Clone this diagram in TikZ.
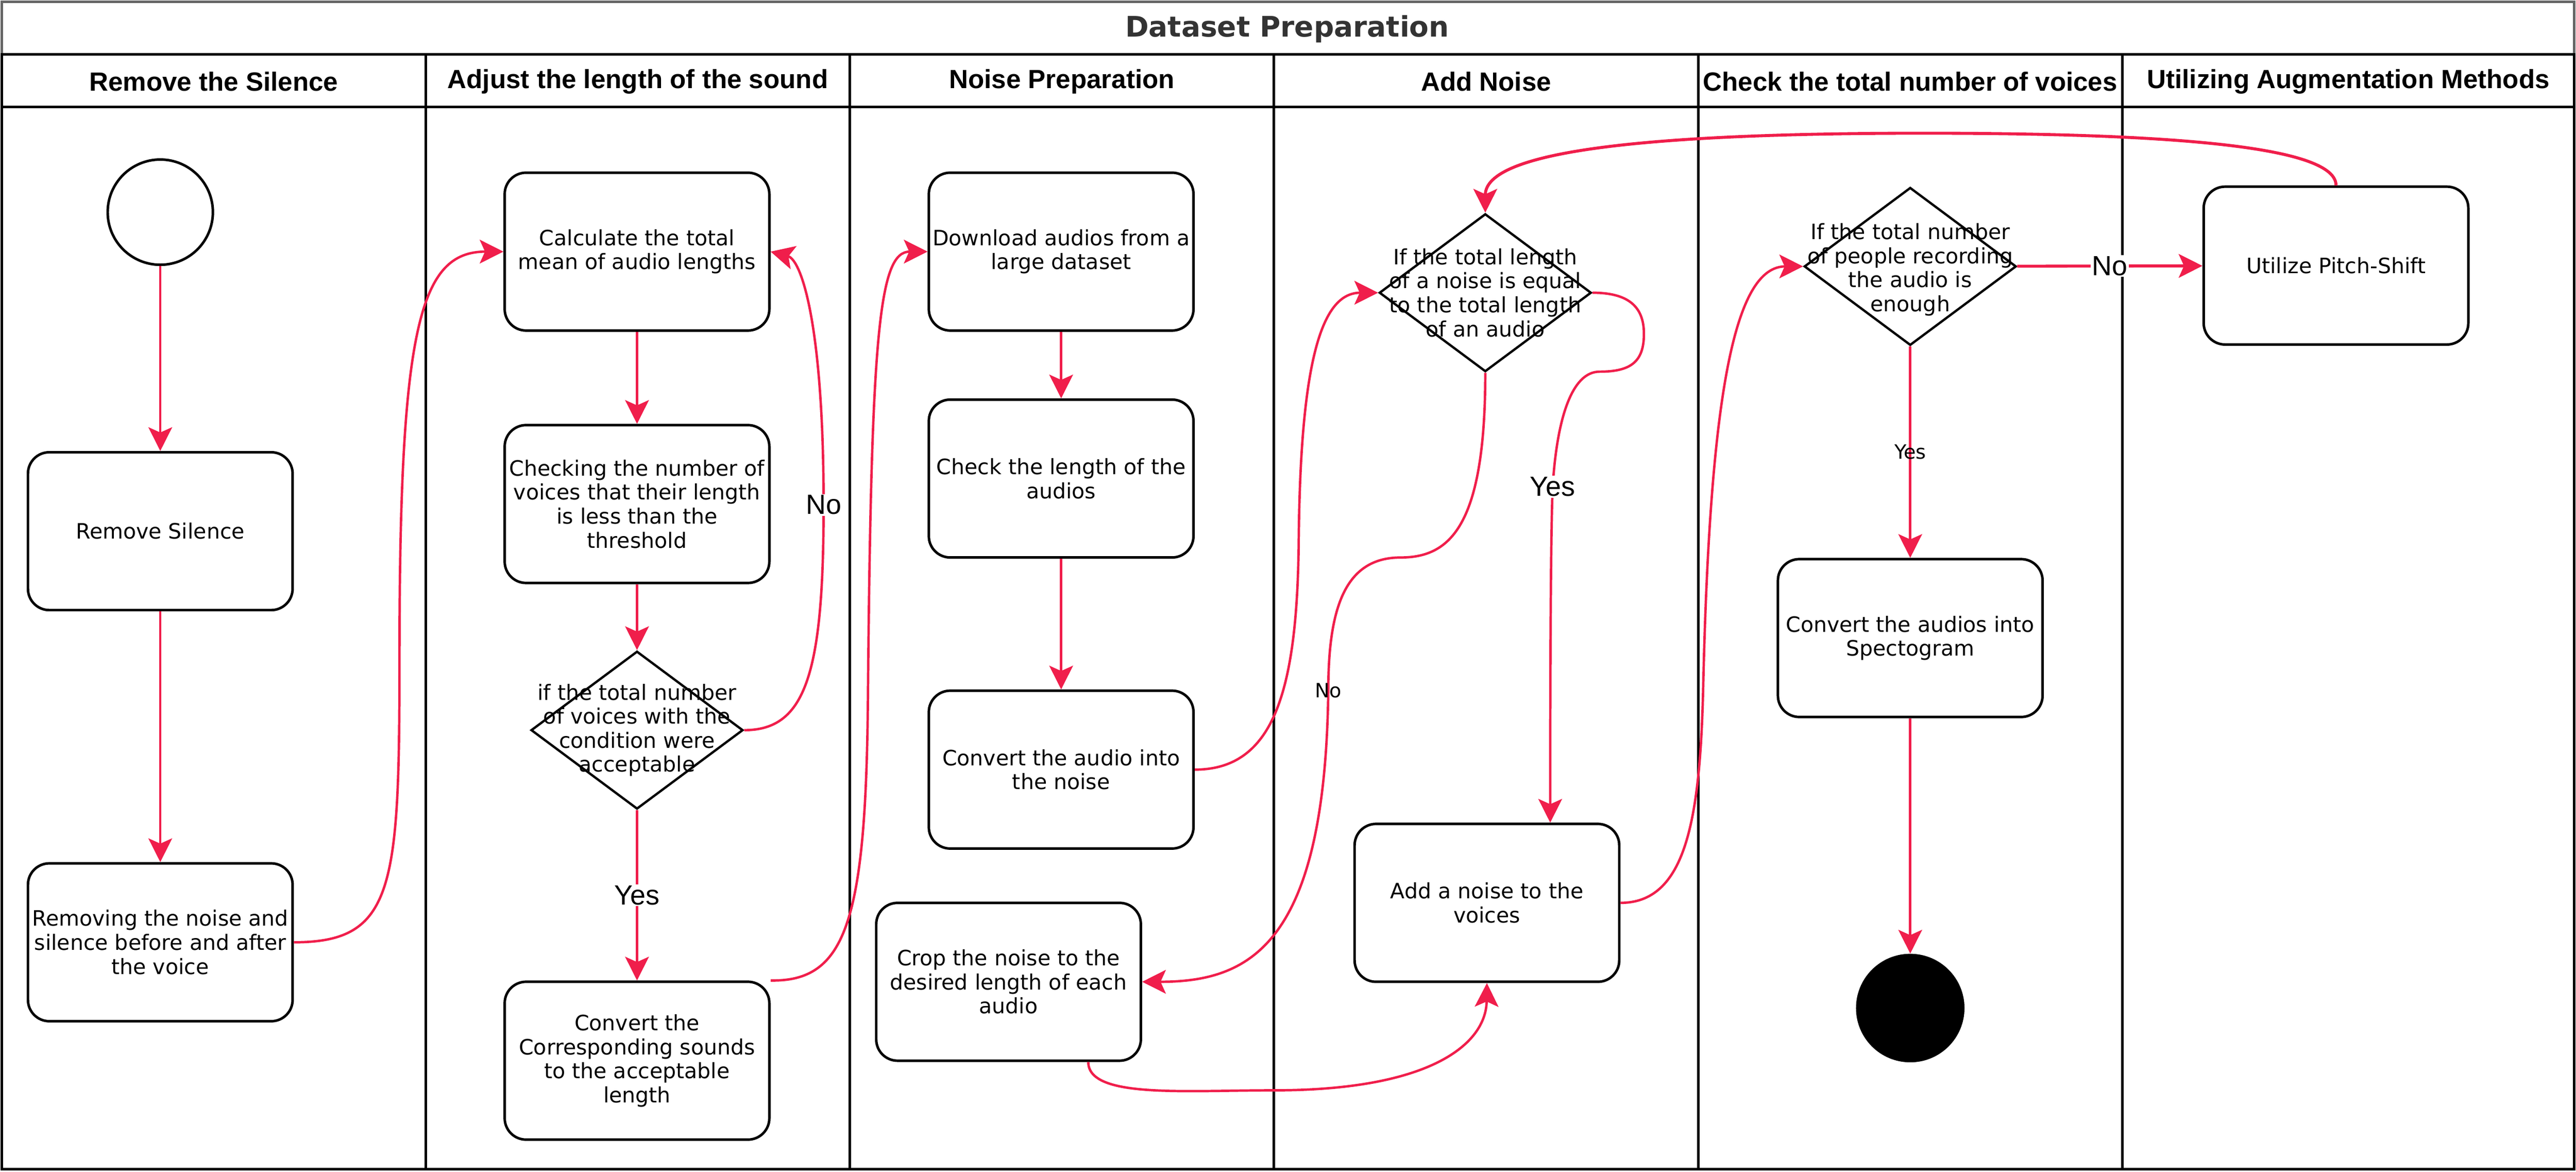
\documentclass[tikz,border=0pt]{standalone}
\usepackage{fontspec}
\setmainfont{DejaVu Sans}
\newfontfamily\arialfont{Liberation Sans}
\usetikzlibrary{arrows.meta,positioning,shapes.geometric,calc}

\definecolor{flowred}{RGB}{240,30,75}
\definecolor{poolgray}{HTML}{666666}
\definecolor{titlegray}{HTML}{333333}

\tikzset{
  flowtip/.tip={Stealth[length=0.72cm,width=0.72cm,inset=0.16cm]},
  activity/.style={draw, rounded corners=0.65cm, line width=2.2pt, minimum width=8.05cm,
    minimum height=4.8cm, inner sep=0pt, align=center, font={\fontsize{18.3pt}{20.8pt}\selectfont}},
  decision/.style={draw, diamond, line width=2pt, minimum width=6.45cm, minimum height=4.8cm, inner sep=0pt},
  dtext/.style={align=center, font={\fontsize{18.3pt}{20.8pt}\selectfont}},
  startnode/.style={draw, circle, line width=2.2pt, minimum size=3.2cm, inner sep=0pt},
  endnode/.style={circle, fill=black, minimum size=3.3cm, inner sep=0pt},
  flow/.style={draw=flowred, line width=2.1pt, -flowtip},
  bigtag/.style={fill=white, inner sep=1pt, font={\arialfont\fontsize{24pt}{26pt}\selectfont}},
  smalltag/.style={inner sep=0pt, font={\fontsize{17pt}{19pt}\selectfont}},
  lanehead/.style={font={\arialfont\bfseries\fontsize{22.8pt}{26pt}\selectfont}},
  lane/.style={draw, line width=2.2pt},
}

\begin{document}
\begin{tikzpicture}[x=0.05cm, y=-0.05cm]
  \useasboundingbox (0,0) rectangle (1567,712.5);
  % pool and lanes
  \draw[lane, draw=poolgray] (1,1) rectangle (1566,711);
  \node[font={\bfseries\fontsize{24.5pt}{28pt}\selectfont}, text=titlegray] (title) at (783,17.5) {Dataset Preparation};
  \foreach \xa/\xb/\name/\txt in {1/259/rs/Remove the Silence, 259/517/adj/Adjust the length of the sound,
      517/775/np/Noise Preparation, 775/1033/an/Add Noise, 1033/1291/ck/Check the total number of voices,
      1291/1566/ua/Utilizing Augmentation Methods}{
    \draw[lane] (\xa,33) rectangle (\xb,711);
    \draw[lane] (\xa,65) -- (\xb,65);
    \node[lanehead] (h\name) at ({(\xa+\xb)/2},49.5) {\txt};
  }

  % remove the silence
  \node[startnode] (start) at (97.5,129) {};
  \node[activity] (silence) [below of= start, node distance=9.7cm] {Remove Silence};
  \node[activity] (noise) [below of= silence, node distance=12.5cm] {Removing the noise and\\silence before and after\\the voice};

  % adjust the length
  \node[activity] (calc) at (387.5,153) {Calculate the total\\mean of audio lengths};
  \node[activity] (check) [below of= calc, node distance=7.675cm] {Checking the number of\\voices that their length\\is less than the\\threshold};
  \node[decision] (d1) [below of= check, node distance=6.875cm] {};
  \node[dtext] (d1txt) at (d1) {if the total number\\of voices with the\\condition were\\acceptable};
  \node[activity] (convcorr) [below of= d1, node distance=10.05cm] {Convert the\\Corresponding sounds\\to the acceptable\\length};

  % noise preparation
  \node[activity] (download) at (645.5,153) {Download audios from a\\large dataset};
  \node[activity] (length) [below of= download, node distance=6.9cm] {Check the length of the\\audios};
  \node[activity] (noiseconv) [below of= length, node distance=8.85cm] {Convert the audio into\\the noise};
  \node[activity] (crop) at (613.5,597) {Crop the noise to the\\desired length of each\\audio};

  % add noise
  \node[decision] (d2) at (903.5,178) {};
  \node[dtext] (d2txt) at (d2) {If the total length\\of a noise is equal\\to the total length\\of an audio};
  \node[activity] (addn) at (904.5,549) {Add a noise to the\\voices};

  % check the total number
  \node[decision] (d3) at (1162,162) {};
  \node[dtext] (d3txt) at ([yshift=-0.1cm]d3) {If the total number\\of people recording\\the audio is\\enough};
  \node[activity] (spec) [below of= d3, node distance=11.3cm] {Convert the audios into\\Spectogram};
  \node[endnode] (finish) [below of= spec, node distance=11.25cm] {};

  % augmentation
  \node[activity] (pitch) at (1421,161.5) {Utilize Pitch-Shift};

  % straight connectors
  \path (start) edge[flow] (silence)
        (silence) edge[flow] (noise)
        (calc) edge[flow] (check)
        (check) edge[flow] (d1)
        (d1) edge[flow] node[bigtag] {Yes} (convcorr)
        (download) edge[flow] (length)
        (length) edge[flow] (noiseconv)
        (d3) edge[flow] node[smalltag] {Yes} (spec)
        (d3) edge[flow, line width=2.6pt] node[bigtag] {No} (pitch)
        (spec) edge[flow] (finish);

  % curved connectors
  \draw[flow] (noise.east) .. controls (240,573) and (243,540) .. (243,400)
    .. controls (243,200) and (255,153) .. (calc.west);
  \draw[flow] (d1.east) .. controls (490,444) and (501,410) .. (501,307) node[bigtag] {No}
    .. controls (501,200) and (488,158) .. (calc.east);
  \draw[flow] (convcorr.north east) .. controls (515,597) and (527,560) .. (528,420)
    .. controls (530,200) and (535,153) .. (download.west);
  \draw[flow] (noiseconv.east) .. controls (775,468) and (789,420) .. (790,330)
    .. controls (791,215) and (805,178) .. (d2.west);
  \draw[flow] (d2.east) .. controls (990,178) and (1000,186) .. (1000,203)
    .. controls (1000,220) and (992,226) .. (973,226)
    .. controls (956,226) and (947,255) .. (944.5,296) node[bigtag] {Yes}
    .. controls (943,330) and (943,450) .. ($(addn.north)+(38.5,0)$);
  \draw[flow] (d2.south) .. controls (903.5,320) and (882,339) .. (852,339)
    .. controls (818,339) and (808,370) .. (808,420) node[smalltag] {No}
    .. controls (806,575) and (760,597) .. (crop.east);
  \draw[flow] ($(crop.south)+(48.5,0)$) .. controls (662,668) and (720,663) .. (775,663)
    .. controls (870,663) and (904,635) .. (addn.south);
  \draw[flow] (addn.east) .. controls (1025,549) and (1034,500) .. (1036,420)
    .. controls (1040,240) and (1055,162) .. (d3.west);
  \draw[flow, line width=2.6pt] (pitch.north) .. controls (1421,90) and (1330,81) .. (1170,81)
    .. controls (1000,81) and (903.5,92) .. (d2.north);
\end{tikzpicture}
\end{document}
